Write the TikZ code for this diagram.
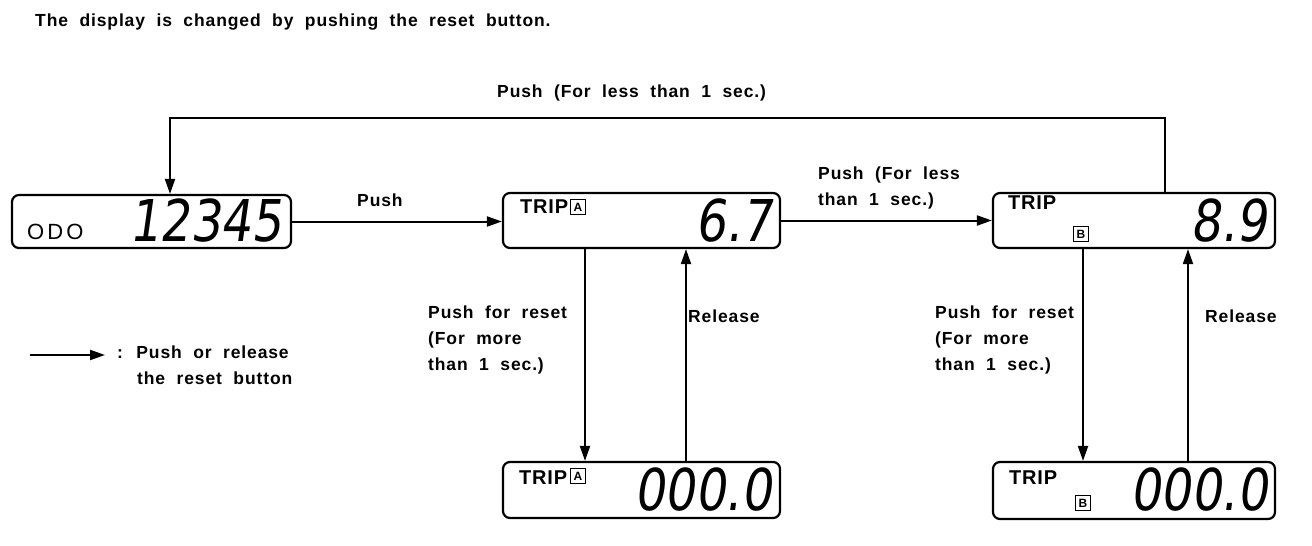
\documentclass[tikz,border=0pt]{standalone}
\usepackage{fontspec}
\setmainfont{Liberation Sans}
\newfontfamily\labfont[LetterSpace=5,WordSpace=2]{Liberation Sans Bold}
\newfontfamily\dispfont[LetterSpace=4]{Liberation Sans Bold}
\newfontfamily\odofont[LetterSpace=14]{Liberation Sans}
\newfontfamily\sqfont{Liberation Sans Bold}
\newfontfamily\segfont[FakeSlant=0.17]{DejaVu Sans}
\usetikzlibrary{arrows.meta}
\begin{document}
\begin{tikzpicture}[x=1pt,y=-1pt,
  box/.style={draw, line width=2.2pt, rounded corners=7pt, inner sep=0pt},
  arr/.style={line width=2pt, -{Triangle[length=15pt,width=10pt]}},
  lab/.style={font=\labfont\fontsize{17.5}{26}\selectfont, inner sep=0pt, align=left},
  disp/.style={font=\dispfont\fontsize{20}{24}\selectfont, inner sep=0pt},
  seg/.style={font=\segfont\fontsize{48}{48}\selectfont, inner sep=0pt},
  sq/.style={draw, line width=1.8pt, minimum size=15pt, inner sep=0pt, font=\sqfont\fontsize{12}{12}\selectfont}
]
\useasboundingbox (0,0) rectangle (1312,546);

% title
\node[lab, anchor=west] (title) at (35,22) {The display is changed by pushing the reset button.};

% display boxes
\node[box, minimum width=279pt, minimum height=53pt] (odo) at (151.5,221.5) {};
\node[box, minimum width=277pt, minimum height=55pt] (ta) at (641.5,220.5) {};
\node[box, minimum width=282pt, minimum height=55pt] (tb) at (1134,220.5) {};
\node[box, minimum width=277pt, minimum height=56pt] (ra) at (641.5,490) {};
\node[box, minimum width=282pt, minimum height=57pt] (rb) at (1134,490.5) {};

% display contents
\node[disp, font=\odofont\fontsize{22}{24}\selectfont, anchor=west] (odot) at (27,232) {ODO};
\node[seg, anchor=east] (odod) at (282,221) {\scalebox{1}[1.2]{12345}};

\node[disp, anchor=west] (tat) at (520,207) {TRIP};
\node[sq] (tas) at (578,207) {A};
\node[seg, anchor=east] (tad) at (772,221) {\scalebox{1}[1.2]{6.7}};

\node[disp, anchor=west] (tbt) at (1008,203) {TRIP};
\node[sq] (tbs) at (1081,234) {B};
\node[seg, anchor=east] (tbd) at (1267,221) {\scalebox{1}[1.2]{8.9}};

\node[disp, anchor=west] (rat) at (519,478) {TRIP};
\node[sq] (ras) at (578,476) {A};
\node[seg, anchor=east] (rad) at (772,490) {\scalebox{1}[1.2]{000.0}};

\node[disp, anchor=west] (rbt) at (1009,478) {TRIP};
\node[sq] (rbs) at (1083,503) {B};
\node[seg, anchor=east] (rbd) at (1268,490) {\scalebox{1}[1.2]{000.0}};

% horizontal arrows
\draw[arr] (odo.east) -- (odo.east -| ta.west);
\node[lab, anchor=west] (l1) at (357,200) {Push};
\draw[arr] (ta.east) -- (tb.west);
\node[lab, anchor=north west] (l2) at (818,167) {Push (For less\\than 1 sec.)};

% top loop
\coordinate (c1) at (1165,118);
\coordinate (c2) at (170,118);
\draw[arr] (c1 |- tb.north) -- (c1) -- (c2) -- (c2 |- odo.north);
\node[lab, anchor=west] (l3) at (497,93) {Push (For less than 1 sec.)};

% vertical arrows A
\coordinate (xa1) at (585,0);
\coordinate (xa2) at (686,0);
\draw[arr] (xa1 |- ta.south) -- (xa1 |- ra.north);
\draw[arr] (xa2 |- ra.north) -- (xa2 |- ta.south);
\node[lab, anchor=north west] (l4) at (428,306) {Push for reset\\(For more\\than 1 sec.)};
\node[lab, anchor=west] (l5) at (688,316) {Release};

% vertical arrows B
\coordinate (xb1) at (1083,0);
\coordinate (xb2) at (1188,0);
\draw[arr] (xb1 |- tb.south) -- (xb1 |- rb.north);
\draw[arr] (xb2 |- rb.north) -- (xb2 |- tb.south);
\node[lab, anchor=north west] (l6) at (935,306) {Push for reset\\(For more\\than 1 sec.)};
\node[lab, anchor=west] (l7) at (1205,316) {Release};

% legend
\coordinate (g1) at (30,355);
\coordinate (g2) at (105,355);
\draw[arr] (g1) -- (g2);
\node[lab, anchor=north west] (l8) at (117,346) {: Push or release\\\hspace*{20pt}the reset button};
\end{tikzpicture}
\end{document}
